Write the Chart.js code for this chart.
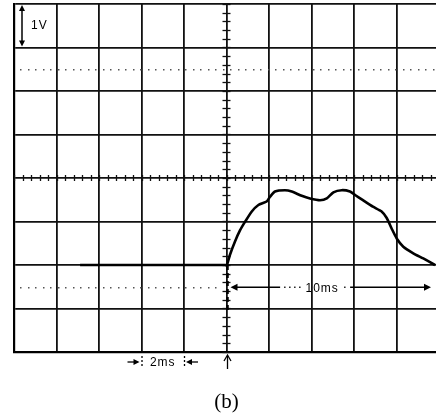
<!DOCTYPE html>
<html>
<head>
<meta charset="utf-8">
<script src="https://cdn.jsdelivr.net/npm/chart.js@4/dist/chart.umd.min.js"></script>
<style>
html,body{margin:0;padding:0;background:#fff;overflow:hidden;width:436px;height:417px;}
canvas{display:block;}
</style>
</head>
<body>
<canvas id="c" width="440" height="417"></canvas>
<script>
// time relative to trigger (ms), 2 ms/div
const timeMs = [-6.89, 0.0, 0.01, 0.16, 0.40, 0.64, 0.87, 1.19, 1.50, 1.89, 2.05, 2.28, 2.75, 3.07, 3.54, 3.93, 4.40, 4.72, 5.03, 5.42, 5.81, 6.05, 6.42, 6.89, 7.30, 7.54, 7.77, 8.01, 8.32, 8.79, 9.26, 9.81];
// voltage (V), 1 V/div
const volts  = [-2.0, -2.0, -2.02, -1.77, -1.46, -1.20, -1.01, -0.77, -0.62, -0.54, -0.43, -0.31, -0.28, -0.31, -0.41, -0.47, -0.51, -0.47, -0.33, -0.28, -0.31, -0.39, -0.51, -0.66, -0.77, -0.92, -1.16, -1.39, -1.58, -1.73, -1.85, -2.0];
const xRange = [-10, 10];
const yRange = [-4, 4];
const labels = {volt: '1V', time: '10ms', div: '2ms', caption: '(b)'};

const points = timeMs.map((t, i) => ({x: t, y: volts[i]}));

function arrowHead(ctx, x, y, dir, size) {
  ctx.beginPath();
  if (dir === 'left') { ctx.moveTo(x, y); ctx.lineTo(x + size, y - size*0.5); ctx.lineTo(x + size, y + size*0.5); }
  if (dir === 'right') { ctx.moveTo(x, y); ctx.lineTo(x - size, y - size*0.5); ctx.lineTo(x - size, y + size*0.5); }
  if (dir === 'up') { ctx.moveTo(x, y); ctx.lineTo(x - size*0.5, y + size); ctx.lineTo(x + size*0.5, y + size); }
  if (dir === 'down') { ctx.moveTo(x, y); ctx.lineTo(x - size*0.5, y - size); ctx.lineTo(x + size*0.5, y - size); }
  ctx.closePath(); ctx.fill();
}

const scopePlugin = {
  id: 'scope',
  beforeDatasetsDraw(chart) {
    const ctx = chart.ctx, xs = chart.scales.x, ys = chart.scales.y;
    const X = v => xs.getPixelForValue(v), Y = v => ys.getPixelForValue(v);
    ctx.save();
    ctx.strokeStyle = '#111'; ctx.lineWidth = 1.3;
    for (let t = xRange[0]; t <= xRange[1] + 1e-6; t += 0.4) {
      const px = Math.round(X(t)) + 0.5;
      ctx.beginPath(); ctx.moveTo(px, Y(0) - 3); ctx.lineTo(px, Y(0) + 3); ctx.stroke();
    }
    for (let v = yRange[0]; v <= yRange[1] + 1e-6; v += 0.2) {
      const py = Math.round(Y(v)) + 0.5;
      ctx.beginPath(); ctx.moveTo(X(0) - 4, py); ctx.lineTo(X(0) + 4, py); ctx.stroke();
    }
    ctx.fillStyle = '#555';
    for (let px = X(-10) + 6; px < chart.chartArea.right; px += 7.5) {
      ctx.fillRect(Math.round(px), Math.round(Y(2.5)), 1.5, 1.5);
    }
    for (let px = X(-10) + 6; px < X(0) - 4; px += 7.5) {
      ctx.fillRect(Math.round(px), Math.round(Y(-2.5)), 1.5, 1.5);
    }
    ctx.strokeStyle = '#000'; ctx.lineWidth = 2.5; ctx.setLineDash([5, 3]);
    ctx.beginPath(); ctx.moveTo(X(0) + 1, Y(-2)); ctx.lineTo(X(0) + 1, Y(-3.1)); ctx.stroke();
    ctx.setLineDash([]);
    ctx.restore();
  },
  afterDraw(chart) {
    const ctx = chart.ctx, xs = chart.scales.x, ys = chart.scales.y;
    const X = v => xs.getPixelForValue(v), Y = v => ys.getPixelForValue(v);
    ctx.save();
    ctx.fillStyle = '#000'; ctx.strokeStyle = '#000';
    const ax = X(-10) + 8;
    ctx.lineWidth = 1.5;
    ctx.beginPath(); ctx.moveTo(ax, Y(4) + 4); ctx.lineTo(ax, Y(3) - 4); ctx.stroke();
    arrowHead(ctx, ax, Y(4) + 1, 'up', 6);
    arrowHead(ctx, ax, Y(3) - 1, 'down', 6);
    ctx.font = '12px "Liberation Sans", Arial, sans-serif';
    ctx.letterSpacing = '1px';
    ctx.textBaseline = 'middle'; ctx.textAlign = 'left';
    ctx.fillText(labels.volt, ax + 9, Y(3.5));
    const ty = Y(-2.5) + 0.5;
    const tl = X(0) + 4, tr = chart.chartArea.right - 8;
    const tc = X(4.5);
    ctx.lineWidth = 1.6;
    ctx.beginPath(); ctx.moveTo(tl + 5, ty); ctx.lineTo(tc - 42, ty); ctx.stroke();
    ctx.beginPath(); ctx.moveTo(tc + 28, ty); ctx.lineTo(tr - 5, ty); ctx.stroke();
    for (let px = tc - 38; px < tc - 20; px += 5) ctx.fillRect(px, ty - 0.7, 1.4, 1.4);
    ctx.fillRect(tc + 22, ty - 0.7, 1.4, 1.4);
    arrowHead(ctx, tl, ty, 'left', 7);
    arrowHead(ctx, tr, ty, 'right', 7);
    ctx.textAlign = 'center';
    ctx.fillText(labels.time, tc, ty + 1);
    const my = Y(-4) + 10;
    const m1 = X(-4), m2 = X(-2);
    ctx.lineWidth = 1.3;
    ctx.beginPath(); ctx.moveTo(m1 - 14, my); ctx.lineTo(m1 - 4, my); ctx.stroke();
    arrowHead(ctx, m1 - 2, my, 'right', 6);
    ctx.beginPath(); ctx.moveTo(m2 + 14, my); ctx.lineTo(m2 + 4, my); ctx.stroke();
    arrowHead(ctx, m2 + 2, my, 'left', 6);
    ctx.setLineDash([2, 2]);
    ctx.beginPath(); ctx.moveTo(m1 + 0.5, my - 6); ctx.lineTo(m1 + 0.5, my + 6); ctx.stroke();
    ctx.beginPath(); ctx.moveTo(m2 + 0.5, my - 6); ctx.lineTo(m2 + 0.5, my + 6); ctx.stroke();
    ctx.setLineDash([]);
    ctx.fillText(labels.div, X(-3), my + 0.5);
    const ux = X(0) + 1;
    ctx.lineWidth = 1.3;
    ctx.beginPath(); ctx.moveTo(ux, Y(-4) + 4); ctx.lineTo(ux, Y(-4) + 17); ctx.stroke();
    ctx.beginPath(); ctx.moveTo(ux - 3.5, Y(-4) + 9); ctx.lineTo(ux, Y(-4) + 3); ctx.lineTo(ux + 3.5, Y(-4) + 9); ctx.stroke();
    ctx.letterSpacing = '0px';
    ctx.font = '21px "Liberation Serif", "Times New Roman", serif';
    ctx.fillText(labels.caption, X(0), Y(-4) + 50);
    ctx.restore();
  }
};

new Chart(document.getElementById('c'), {
  type: 'scatter',
  data: {
    datasets: [{
      data: points,
      showLine: true,
      borderColor: '#000',
      borderWidth: 2.6,
      pointRadius: 0,
      tension: 0.2,
      fill: false
    }]
  },
  options: {
    responsive: false,
    animation: false,
    events: [],
    layout: {padding: {left: 14, top: 4, right: 1, bottom: 65}},
    plugins: {legend: {display: false}, tooltip: {enabled: false}, title: {display: false}},
    scales: {
      x: {
        type: 'linear', min: xRange[0], max: xRange[1],
        ticks: {display: false, stepSize: 2},
        grid: {color: '#111', lineWidth: 1.8, drawTicks: false},
        border: {display: true, color: '#000', width: 2.2}
      },
      y: {
        type: 'linear', min: yRange[0], max: yRange[1],
        ticks: {display: false, stepSize: 1},
        grid: {color: '#111', lineWidth: 1.8, drawTicks: false},
        border: {display: true, color: '#000', width: 2.2}
      }
    }
  },
  plugins: [scopePlugin]
});
</script>
</body>
</html>
